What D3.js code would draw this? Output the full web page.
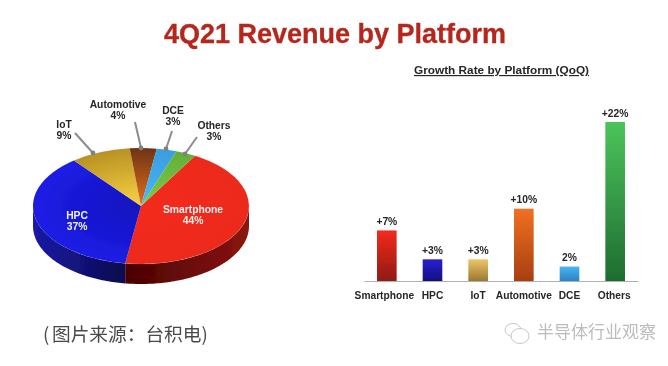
<!DOCTYPE html>
<html>
<head>
<meta charset="utf-8">
<script src="https://cdn.jsdelivr.net/npm/d3@7"></script>
<style>
  html, body { margin: 0; padding: 0; background: #fff; }
  svg { display: block; font-family: "Liberation Sans", Arial, sans-serif; }
</style>
</head>
<body>
<svg id="chart" width="668" height="366"></svg>
<script>
const platforms = ["Smartphone", "HPC", "IoT", "Automotive", "DCE", "Others"];
const revenueShare = [44, 37, 9, 4, 3, 3];
const growthRate = [7, 3, 3, 10, 2, 22];
const growthLabels = ["+7%", "+3%", "+3%", "+10%", "2%", "+22%"];

// top colour / bottom colour for the bars, and for the pie slices
const barColors = [["#f42a1c", "#8e1a12"], ["#2a20d4", "#10107c"], ["#eec468", "#9a7830"],
  ["#f27022", "#a63f10"], ["#4ab4f2", "#2c82c4"], ["#4cc45c", "#1e6c30"]];
const sliceColors = [["#f22c1c", "#ec2a1a"], ["#1414c0", "#1c1ce6"], ["#f6d040", "#b89224"],
  ["#e06a20", "#6e3412"], ["#48b8f4", "#3a9ce0"], ["#7cc844", "#62b038"]];
const wallColors = [["#4a0202", "#8a1410"], ["#1a1aa8", "#0a0a4c"]];

// label layout of the pie: label centre, then where its leader line runs
const pieNotes = {
  IoT: { x: 64, y: 124, line: [[75, 133], [93, 153]] },
  Automotive: { x: 118, y: 104, line: [[135, 122], [141, 148]] },
  DCE: { x: 173, y: 110, line: [[172, 131], [166, 149]] },
  Others: { x: 214, y: 125, line: [[197, 137], [185, 154]] },
  HPC: { x: 77, y: 215, fill: "#f2f2ff" },
  Smartphone: { x: 193, y: 209, fill: "#fbeeee" },
};

const svg = d3.select("#chart");
const defs = svg.append("defs");
defs.append("filter").attr("id", "soft")
  .append("feGaussianBlur").attr("stdDeviation", 0.45);

const root = svg.append("g").attr("filter", "url(#soft)");

const g = {
  pie: root.append("g"),
  notes: root.append("g"),
  bars: root.append("g"),
  text: root.append("g"),
};

// ---- title
g.text.append("text")
  .attr("x", 335).attr("y", 43)
  .attr("text-anchor", "middle")
  .attr("font-size", 27).attr("font-weight", 700)
  .attr("fill", "#b5261c")
  .attr("stroke", "#b5261c").attr("stroke-width", 0.3)
  .text("4Q21 Revenue by Platform");

// ---- pie
const cx = 141, cy = 206, rx = 108, ry = 58, depth = 20;

const pie = d3.pie().sort(null)
  .startAngle(Math.PI / 6)
  .endAngle(Math.PI / 6 + 2 * Math.PI);
const slices = pie(revenueShare);

const rimX = (a) => cx + rx * Math.sin(a);
const rimY = (a) => cy - ry * Math.cos(a);

// side wall, only the front half of the ellipse shows
const wall = d3.area().x((a) => rimX(a)).y0((a) => rimY(a)).y1((a) => rimY(a) + depth);
slices.slice(0, 2).forEach((s, i) => {
  const from = Math.max(s.startAngle, Math.PI / 2);
  const to = Math.min(s.endAngle, 3 * Math.PI / 2);
  const id = "wall" + i;
  const grad = defs.append("linearGradient").attr("id", id)
    .attr("gradientUnits", "userSpaceOnUse")
    .attr("x1", rimX(to)).attr("x2", rimX(from))
    .attr("y1", 0).attr("y2", 0);
  grad.append("stop").attr("offset", 0).attr("stop-color", wallColors[i][0]);
  grad.append("stop").attr("offset", 1).attr("stop-color", wallColors[i][1]);
  g.pie.append("path")
    .attr("d", wall(d3.range(from, to, 0.02).concat([to])))
    .attr("fill", `url(#${id})`);
});

// top face is a unit-radius arc squashed into the ellipse
const arc = d3.arc().innerRadius(0).outerRadius(1);
const topFace = g.pie.append("g")
  .attr("transform", `translate(${cx},${cy}) scale(${rx},${ry})`);

topFace.selectAll("path")
  .data(slices)
  .enter()
  .append("path")
  .attr("d", arc)
  .attr("fill", (d, i) => {
    const id = "slice" + i;
    const grad = defs.append("radialGradient").attr("id", id)
      .attr("gradientUnits", "userSpaceOnUse")
      .attr("cx", 0).attr("cy", 0).attr("r", 1);
    grad.append("stop").attr("offset", 0.05).attr("stop-color", sliceColors[i][0]);
    grad.append("stop").attr("offset", 1).attr("stop-color", sliceColors[i][1]);
    return `url(#${id})`;
  });

// ---- pie labels
const leader = d3.line();
platforms.forEach((name, i) => {
  const note = pieNotes[name];
  if (note.line) {
    g.notes.append("path")
      .attr("d", leader(note.line))
      .attr("fill", "none")
      .attr("stroke", "#8c8c8c")
      .attr("stroke-width", 2);
    g.notes.append("circle")
      .attr("cx", note.line[1][0]).attr("cy", note.line[1][1])
      .attr("r", 2.4).attr("fill", "#808080");
  }
  const label = g.notes.append("text")
    .attr("text-anchor", "middle")
    .attr("font-size", 10.3).attr("font-weight", 700)
    .attr("fill", note.fill || "#262626");
  label.append("tspan").attr("x", note.x).attr("y", note.y + 3.5).text(name);
  label.append("tspan").attr("x", note.x).attr("y", note.y + 15).text(revenueShare[i] + "%");
});

// ---- bars
g.text.append("text")
  .attr("x", 501.5).attr("y", 74)
  .attr("text-anchor", "middle")
  .attr("font-size", 11.8).attr("font-weight", 700)
  .attr("fill", "#262626")
  .attr("text-decoration", "underline")
  .text("Growth Rate by Platform (QoQ)");

const x = d3.scaleBand().domain(platforms).range([364, 638])
  .paddingInner(0.57).paddingOuter(0.285);
const y = d3.scaleLinear().domain([0, 22]).range([281, 122]);

platforms.forEach((name, i) => {
  const grad = defs.append("linearGradient").attr("id", "bar" + i)
    .attr("x1", 0).attr("x2", 0).attr("y1", 0).attr("y2", 1);
  grad.append("stop").attr("offset", 0).attr("stop-color", barColors[i][0]);
  grad.append("stop").attr("offset", 1).attr("stop-color", barColors[i][1]);
});

g.bars.selectAll("rect")
  .data(platforms)
  .enter()
  .append("rect")
  .attr("x", (d) => x(d))
  .attr("y", (d, i) => y(growthRate[i]))
  .attr("width", x.bandwidth())
  .attr("height", (d, i) => y(0) - y(growthRate[i]))
  .attr("fill", (d, i) => `url(#bar${i})`);

g.bars.selectAll(".value")
  .data(platforms)
  .enter()
  .append("text")
  .attr("class", "value")
  .attr("x", (d) => x(d) + x.bandwidth() / 2)
  .attr("y", (d, i) => y(growthRate[i]) - 5.5)
  .attr("text-anchor", "middle")
  .attr("font-size", 10.3).attr("font-weight", 700)
  .attr("fill", "#262626")
  .text((d, i) => growthLabels[i]);

const xAxis = g.bars.append("g")
  .attr("transform", `translate(0,${y(0)})`)
  .call(d3.axisBottom(x).tickSize(0).tickPadding(11));
xAxis.select(".domain").attr("stroke", "#b0b0b0").attr("stroke-width", 1);
xAxis.selectAll("text")
  .attr("font-family", "Liberation Sans")
  .attr("font-size", 10.2).attr("font-weight", 700)
  .attr("fill", "#262626")
  .attr("dx", (d) => (d == "Smartphone" ? -2.5 : d == "Others" ? -1 : 0));

// ---- source line and watermark
const source = g.text.append("text")
  .attr("x", 43).attr("y", 341)
  .attr("font-family", "'Noto Sans CJK SC'")
  .attr("font-size", 18.7)
  .attr("fill", "#4a4a4a")
  .text("(");
source.append("tspan").attr("x", 52).text("图片来源：台积电)");

g.text.append("text")
  .attr("x", 537).attr("y", 338)
  .attr("font-family", "'Noto Sans CJK SC'")
  .attr("font-size", 17)
  .attr("fill", "#bcbcbc")
  .text("半导体行业观察");

const icon = g.text.append("g")
  .attr("fill", "#fff").attr("stroke", "#c4c4c4").attr("stroke-width", 1);
icon.append("ellipse").attr("cx", 513).attr("cy", 330).attr("rx", 8).attr("ry", 6.5);
icon.append("ellipse").attr("cx", 520).attr("cy", 336).attr("rx", 9).attr("ry", 7.5);
</script>
</body>
</html>
